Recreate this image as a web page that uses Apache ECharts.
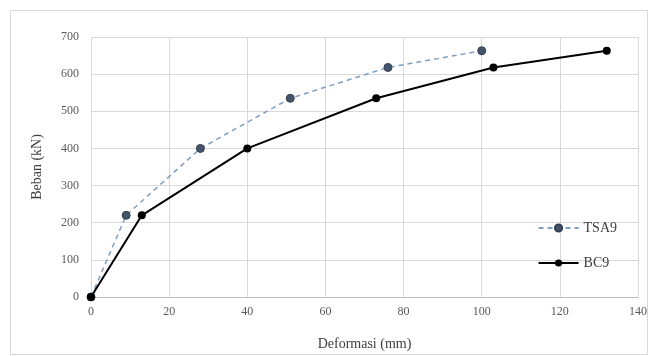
<!DOCTYPE html>
<html><head><meta charset="utf-8">
<script src="https://cdn.jsdelivr.net/npm/echarts@6/dist/echarts.min.js"></script>
<style>html,body{margin:0;padding:0;background:#fff}#c{width:650px;height:356px}</style>
</head><body><div id="c"></div>
<script>
const tsa9X = [0, 9, 28, 51, 76, 100];
const tsa9Y = [0, 220, 400, 535, 618, 663];
const bc9X = [0, 13, 40, 73, 103, 132];
const bc9Y = [0, 220, 400, 535, 618, 663];
const seriesNames = ['TSA9', 'BC9'];
const xName = 'Deformasi (mm)';
const yName = 'Beban (kN)';

const font = '"Liberation Serif", "Times New Roman", serif';
const chart = echarts.init(document.getElementById('c'));
chart.setOption({
  animation: false,
  backgroundColor: '#fff',
  textStyle: { fontFamily: font },
  graphic: [{ type: 'rect', shape: { x: 10.5, y: 10.5, width: 637, height: 344 }, style: { fill: 'none', stroke: '#d9d9d9', lineWidth: 1 } }],
  grid: { left: 91, right: 10, top: 37, bottom: 57 },
  legend: {
    orient: 'vertical', right: 28, top: 216, itemGap: 21, itemWidth: 40, itemHeight: 9,
    textStyle: { fontFamily: font, fontSize: 14, color: '#404040' },
    data: seriesNames
  },
  xAxis: {
    type: 'value', min: 0, max: 140, interval: 20,
    name: xName, nameLocation: 'middle', nameGap: 40,
    nameTextStyle: { fontFamily: font, fontSize: 14, color: '#404040' },
    axisLine: { lineStyle: { color: '#bfbfbf' } },
    axisTick: { show: false },
    axisLabel: { fontFamily: font, fontSize: 12, color: '#595959', margin: 9 },
    splitLine: { lineStyle: { color: '#d9d9d9' } }
  },
  yAxis: {
    type: 'value', min: 0, max: 700, interval: 100,
    name: yName, nameLocation: 'middle', nameGap: 47,
    nameTextStyle: { fontFamily: font, fontSize: 14, color: '#404040' },
    axisLine: { show: false }, axisTick: { show: false },
    axisLabel: { fontFamily: font, fontSize: 12, color: '#595959', margin: 12 },
    splitLine: { lineStyle: { color: '#d9d9d9' } }
  },
  series: [
    {
      name: seriesNames[0], type: 'line', data: tsa9X.map((x, i) => [x, tsa9Y[i]]),
      symbol: 'circle', symbolSize: 8,
      lineStyle: { color: '#7f9fc0', width: 1.5, type: [5, 4] },
      itemStyle: { color: '#44546a', borderColor: '#333f50', borderWidth: 1 }
    },
    {
      name: seriesNames[1], type: 'line', data: bc9X.map((x, i) => [x, bc9Y[i]]),
      symbol: 'circle', symbolSize: 8,
      lineStyle: { color: '#000', width: 2 },
      itemStyle: { color: '#000' }
    }
  ]
});
</script></body></html>
